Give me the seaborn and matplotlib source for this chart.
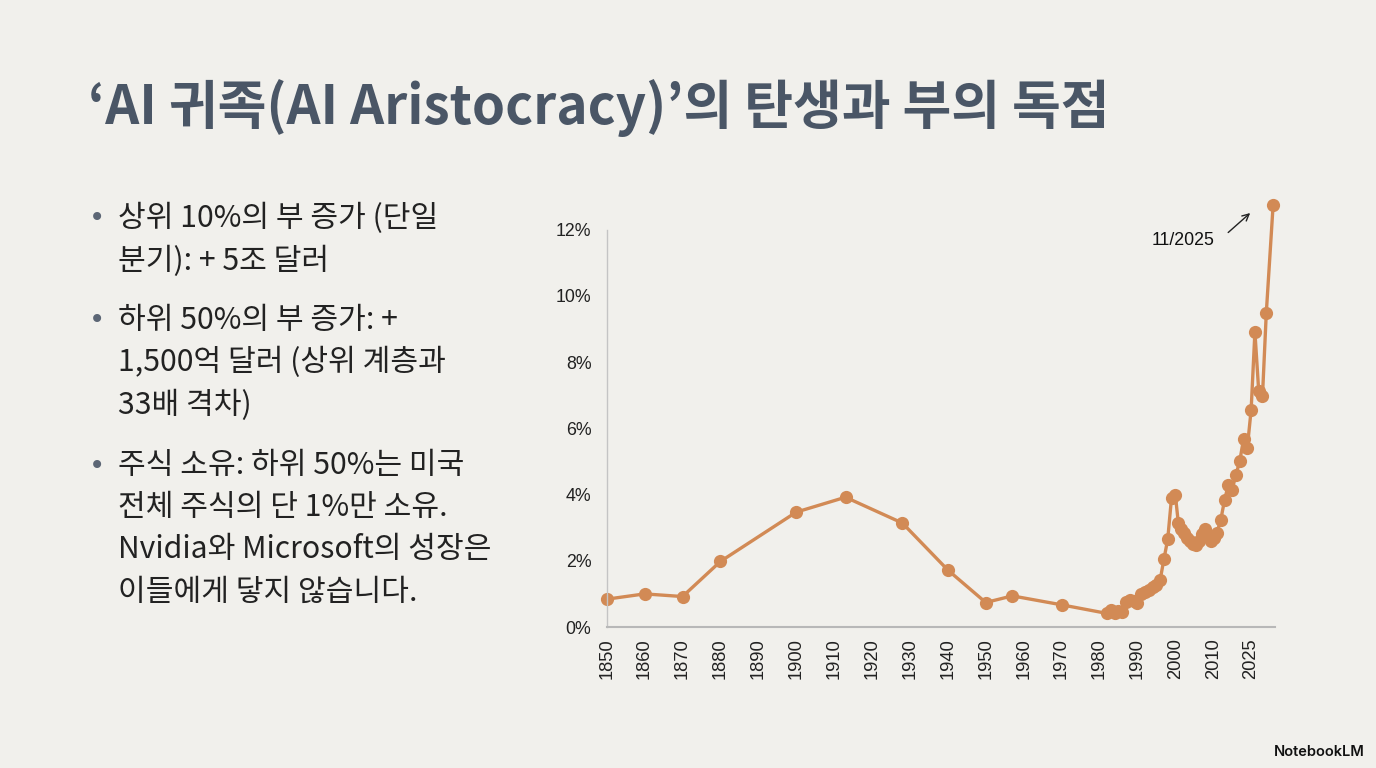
import matplotlib
matplotlib.use("Agg")
import matplotlib.pyplot as plt
import seaborn as sns
import pandas as pd

# top-decile wealth share gain series
years = [1850, 1860, 1870, 1880, 1900, 1913, 1928, 1940, 1950, 1957, 1970,
         1982, 1983, 1984, 1985, 1986, 1987, 1988, 1989, 1990, 1991, 1992,
         1993, 1994, 1995, 1996, 1997, 1998, 1999, 2000, 2000.8,
         2001.5, 2002.2, 2003, 2003.8, 2004.6, 2005.4, 2006.2, 2007, 2007.8,
         2008.6, 2009.4, 2010.2, 2011, 2012, 2013, 2014, 2015, 2016, 2017,
         2018, 2019, 2020, 2021, 2022, 2023, 2024, 2025.8]
share = [0.84, 1.0, 0.92, 1.98, 3.47, 3.92, 3.14, 1.72, 0.74, 0.94, 0.67,
         0.41, 0.50, 0.42, 0.48, 0.46, 0.75, 0.82, 0.78, 0.72, 1.0, 1.07,
         1.12, 1.2, 1.27, 1.42, 2.05, 2.65, 3.9, 4.0, 3.14,
         2.95, 2.85, 2.7, 2.6, 2.5, 2.48, 2.6, 2.8, 2.95,
         2.75, 2.6, 2.7, 2.85, 3.24, 3.84, 4.3, 4.15, 4.6, 5.01,
         5.67, 5.42, 6.55, 8.91, 7.13, 6.98, 9.48, 12.74]

tick_years = [1850, 1860, 1870, 1880, 1890, 1900, 1910, 1920, 1930, 1940,
              1950, 1960, 1970, 1980, 1990, 2000, 2010, 2020]
tick_labels = ['1850', '1860', '1870', '1880', '1890', '1900', '1910', '1920',
               '1930', '1940', '1950', '1960', '1970', '1980', '1990', '2000',
               '2010', '2025']
y_ticks = [0, 2, 4, 6, 8, 10, 12]

title = "‘AI 귀족(AI Aristocracy)’의 탄생과 부의 독점"
bullets = [
    ["상위 10%의 부 증가 (단일", "분기): + 5조 달러"],
    ["하위 50%의 부 증가: +", "1,500억 달러 (상위 계층과", "33배 격차)"],
    ["주식 소유: 하위 50%는 미국", "전체 주식의 단 1%만 소유.",
     "Nvidia와 Microsoft의 성장은", "이들에게 닿지 않습니다."],
]
bullet_rows = [[218, 261], [320, 362, 405], [466, 508, 550, 592]]

sns.set_theme(style="white")
plt.rcParams['font.family'] = ['Noto Sans CJK KR', 'DejaVu Sans']

bg = '#f1f0ec'
W, H = 1376, 768
fig = plt.figure(figsize=(13.76, 7.68), dpi=100, facecolor=bg)
ax = fig.add_axes([606.7 / W, (H - 627) / H, (1275 - 606.7) / W, (627 - 190) / H])
ax.set_facecolor(bg)

df = pd.DataFrame({'year': years, 'share': share})
sns.lineplot(data=df, x='year', y='share', ax=ax, estimator=None,
             color='#d28a55', lw=2.4, marker='o', markersize=9.5,
             markeredgewidth=0, clip_on=False)

ax.set_xlim(1850, 2026.3)
ax.set_ylim(0, 13.2)
ax.set_xticks(tick_years, tick_labels, rotation=90, fontsize=13.2,
              family='Liberation Sans', color='#222222')
ax.set_yticks(y_ticks, [f"{v}%" for v in y_ticks], fontsize=12.8,
              family='Liberation Sans', color='#222222')
ax.tick_params(axis='x', length=0, pad=8)
ax.tick_params(axis='y', length=0, pad=11)
ax.set_xlabel('')
ax.set_ylabel('')
sns.despine(ax=ax)
ax.spines['left'].set_color('#c4c4c4')
ax.spines['left'].set_linewidth(1.0)
ax.spines['left'].set_bounds(0, 12)
ax.spines['bottom'].set_color('#b8b8b8')
ax.spines['bottom'].set_linewidth(1.5)

ax.text(2002.1, 11.68, '11/2025', ha='center', va='center', fontsize=12.8,
        family='Liberation Sans', color='#111111')
ax.annotate('', xy=(2020.3, 12.56), xytext=(2013.4, 11.86),
            arrowprops=dict(arrowstyle='->', color='#222222', lw=1))

fig.text(88 / W, 1 - 108 / H, title, fontsize=38.2, fontweight='heavy',
         color='#4a5666', ha='left', va='center')

for lines, rows in zip(bullets, bullet_rows):
    fig.text(97 / W, 1 - rows[0] / H, '•', fontsize=20, color='#5c6675',
             ha='center', va='center', family='DejaVu Sans')
    for line, y in zip(lines, rows):
        fig.text(118 / W, 1 - y / H, line, fontsize=21.7, color='#222222',
                 ha='left', va='center')

fig.text(1365 / W, 1 - 752 / H, 'NotebookLM', fontsize=10.5, family='Inter',
         fontweight='semibold', color='#111111', ha='right', va='center')

fig.savefig('out.png', dpi=100, facecolor=bg)
